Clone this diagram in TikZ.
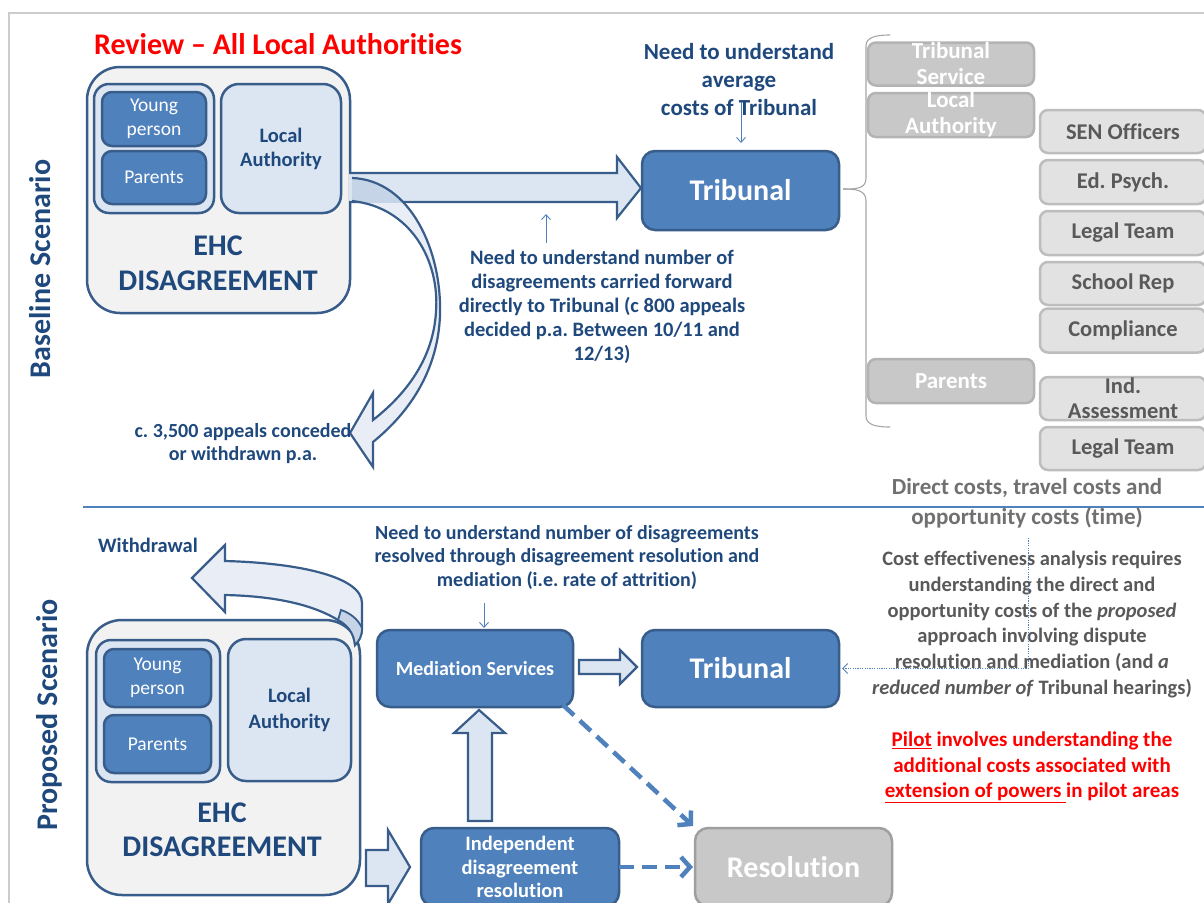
\documentclass[tikz,border=0pt]{standalone}
\usepackage{fontspec}
\setmainfont{Carlito}[Ligatures=NoCommon]
\usetikzlibrary{arrows.meta,calc}
\definecolor{dblue}{HTML}{1F497D}
\definecolor{mblue}{HTML}{4F81BD}
\definecolor{bborder}{HTML}{385D8A}
\definecolor{lblue}{HTML}{DCE6F2}
\definecolor{llblue}{HTML}{E9EEF6}
\definecolor{dkband}{HTML}{C6D4E7}
\definecolor{outerfill}{HTML}{F2F2F2}
\definecolor{gbox}{HTML}{C8C8C8}
\definecolor{gboxb}{HTML}{B3B3B3}
\definecolor{lgbox}{HTML}{E2E2E2}
\definecolor{lgboxb}{HTML}{BDBDBD}
\definecolor{gtext}{HTML}{595959}
\definecolor{gtwo}{HTML}{707070}
\definecolor{framec}{HTML}{CCCCCC}
\definecolor{bracec}{HTML}{A6A6A6}
\newcommand{\fsz}[2]{\fontsize{#1}{#2}\selectfont}
\frenchspacing
\begin{document}
\begin{tikzpicture}[x=1pt,y=-1pt,
  box/.style={draw=bborder, line width=2.5, inner sep=0, outer sep=0},
  bluebox/.style={box, fill=mblue, text=white, align=center},
  lightbox/.style={box, fill=lblue, text=dblue, align=center},
  outerbox/.style={box, fill=outerfill},
  graybox/.style={draw=gboxb, fill=gbox, line width=2.5, rounded corners=8, inner sep=0},
  lgraybox/.style={draw=lgboxb, fill=lgbox, line width=2.5, rounded corners=8, inner sep=0, text=gtext, font=\bfseries\fsz{22.5}{26}},
  wlbl/.style={text=white, font=\bfseries\fsz{23}{26}, align=center, inner sep=0},
  glbl/.style={text=gtext, font=\bfseries\fsz{22.5}{25}, align=center, inner sep=0},
  lbl/.style={text=dblue, align=center, inner sep=0},
  fat/.style={draw=bborder, fill=lblue, line width=2.2, line join=miter},
  thinarrow/.style={mblue, line width=0.9, -{Straight Barb[length=5pt,width=9pt]}},
  dasharrow/.style={mblue, line width=4.5, dash pattern=on 15pt off 8pt, -{Straight Barb[length=9pt,width=20pt]}},
  bracel/.style={draw=bracec, line width=1.1}
]
\useasboundingbox (0,0) rectangle (1204,902);
\fill[white] (0,0) rectangle (1204,902);

% frame and divider
\draw[framec, line width=2] (9,906) -- (9,13) -- (1208,13);
\draw[mblue, line width=1.1] (83,507) -- (1208,507);

% title and side labels
\node[font=\bfseries\fsz{30}{36}, text=red, inner sep=0] (title) at (278,44) {Review – All Local Authorities};
\node[lbl, rotate=90, font=\bfseries\fsz{30}{36}] (base) at (40,269) {Baseline Scenario};
\node[lbl, rotate=90, font=\bfseries\fsz{30}{36}] (prop) at (49,715) {Proposed Scenario};

% ---------- Baseline ----------
\node[outerbox, rounded corners=33, minimum width=263, minimum height=246] (ehc1) at (218.5,190) {};
\node[box, fill=lblue, rounded corners=15, minimum width=120, minimum height=129] (grp1) at (154,148.5) {};
\node[bluebox, rounded corners=10, minimum width=104, minimum height=54, font=\fsz{19.5}{24}] (yp1) at (154,119) {Young\\person};
\node[bluebox, rounded corners=10, minimum width=104, minimum height=53, font=\fsz{19.5}{24}] (par1) at (154,177.5) {Parents};
\node[lightbox, rounded corners=18, minimum width=120, minimum height=129, font=\bfseries\fsz{20.5}{24}] (la1) at (281,148.5) {Local\\Authority};
\node[lbl, font=\bfseries\fsz{30}{35}] (ehct1) at (218,263) {EHC\\DISAGREEMENT};

\node[bluebox, rounded corners=13, minimum width=197, minimum height=79, font=\bfseries\fsz{30}{36}] (trib1) at (740.5,190.5) {Tribunal};

% straight fat arrow
\filldraw[fat] (349,173) -- (617,173) -- (617,157) -- (641,188) -- (617,218) -- (617,202) -- (349,202);

% curved arrow to conceded
\fill[llblue] (352,178) .. controls (410,180) and (442,250) .. (440,315) .. controls (438,370) and (410,412) .. (373,442) -- (373,467) -- (350,433) -- (373,393) -- (373,420) .. controls (405,395) and (433,360) .. (436,312) .. controls (440,260) and (410,207) .. (352,201) -- cycle;
\begin{scope}
\clip (349,173) rectangle (617,202);
\fill[dkband] (352,178) .. controls (410,180) and (442,250) .. (440,315) .. controls (438,370) and (410,412) .. (373,442) -- (373,467) -- (350,433) -- (373,393) -- (373,420) .. controls (405,395) and (433,360) .. (436,312) .. controls (440,260) and (410,207) .. (352,201) -- cycle;
\end{scope}
\draw[bborder, line width=2.2, line join=miter] (352,178) .. controls (410,180) and (442,250) .. (440,315) .. controls (438,370) and (410,412) .. (373,442) -- (373,467) -- (350,433) -- (373,393) -- (373,420) .. controls (405,395) and (433,360) .. (436,312) .. controls (440,260) and (410,207) .. (352,201);

% labels baseline
\node[lbl, font=\bfseries\fsz{23}{28}] (avg) at (739,80) {Need to understand\\average\\costs of Tribunal};
\coordinate (avgs) at (741,102);
\draw[thinarrow, shorten >=8pt] (avgs) -- (avgs |- trib1.north);

\node[lbl, font=\bfseries\fsz{20.5}{24}] (numtxt) at (602,307) {Need to understand number of\\disagreements carried forward\\directly to Tribunal (c 800 appeals\\decided p.a. Between 10/11 and\\12/13)};
\coordinate (nums) at (546,243);
\coordinate (nume) at (546,214);
\draw[thinarrow] (nums) -- (nume);

\node[lbl, font=\bfseries\fsz{20}{23}] (conc) at (243,443.5) {c. 3,500 appeals conceded\\or withdrawn p.a.};

% brace
\coordinate (bt) at (843,189);
\draw[bracel] (bt) .. controls (856,189) and (866,189) .. (866,178) -- (866,46) .. controls (866,38) and (874,35) .. (890,35);
\draw[bracel] (bt) .. controls (856,189) and (866,190) .. (866,201) -- (866,416) .. controls (866,424) and (874,427) .. (890,427);

% gray stakeholder boxes
\node[graybox, minimum width=166, minimum height=43] (ts) at (951,64) {};
\node[wlbl] at (ts.center) {Tribunal\\Service};
\node[graybox, minimum width=166, minimum height=44] (lag) at (951,115) {};
\node[wlbl] at ($(lag.center)+(0,-1)$) {Local\\Authority};
\node[graybox, minimum width=166, minimum height=44] (pg) at (951,381) {};
\node[wlbl] at (pg.center) {Parents};

\node[lgraybox, minimum width=166, minimum height=43] (sen) at (1123,131.5) {SEN Officers};
\node[lgraybox, minimum width=166, minimum height=44] (edp) at (1123,182) {Ed. Psych.};
\node[lgraybox, minimum width=166, minimum height=44] (leg1) at (1123,233) {Legal Team};
\node[lgraybox, minimum width=166, minimum height=43] (sch) at (1123,283.5) {School Rep};
\node[lgraybox, minimum width=166, minimum height=44] (comp) at (1123,330.5) {Compliance};
\node[lgraybox, minimum width=166, minimum height=43] (inda) at (1123,398.5) {};
\node[glbl] at (inda.center) {Ind.\\Assessment};
\node[lgraybox, minimum width=166, minimum height=43] (leg2) at (1123,448.5) {Legal Team};

\node[text=gtwo, font=\bfseries\fsz{23}{30}, align=center, inner sep=0] (direct) at (1027,503) {Direct costs, travel costs and\\opportunity costs (time)};

% ---------- Proposed ----------
\node[lbl, font=\bfseries\fsz{20.5}{24}] (wd) at (148,545) {Withdrawal};

\node[outerbox, rounded corners=35, minimum width=273, minimum height=275] (ehc2) at (223.5,757.5) {};
\node[box, fill=lblue, rounded corners=15, minimum width=124, minimum height=142] (grp2) at (158,711) {};
\node[bluebox, rounded corners=10, minimum width=107, minimum height=58, font=\fsz{19.5}{24}] (yp2) at (157.5,678) {Young\\person};
\node[bluebox, rounded corners=10, minimum width=107, minimum height=58, font=\fsz{19.5}{24}] (par2) at (157.5,744) {Parents};
\node[lightbox, rounded corners=18, minimum width=123, minimum height=142, font=\bfseries\fsz{20.5}{26}] (la2) at (289.5,710) {Local\\Authority};
\node[lbl, font=\bfseries\fsz{30}{34}] (ehct2) at (222,830) {EHC\\DISAGREEMENT};

% withdrawal arrow
\filldraw[fill=llblue, draw=bborder, line width=2.2, line join=miter] (192,578) -- (225,545) -- (225,561) .. controls (300,563) and (362,577) .. (362,603) -- (362,628) .. controls (362,636) and (359,641) .. (355,645) .. controls (354,632) and (346,624) .. (338,620) .. controls (310,603) and (270,596) .. (225,595) -- (225,612) -- cycle;
\filldraw[fill=dkband, draw=bborder, line width=1.8] (338,620) .. controls (346,624) and (354,632) .. (355,645) .. controls (359,641) and (362,636) .. (362,628) .. controls (358,619) and (350,613) .. (341,610) -- cycle;

\node[bluebox, rounded corners=13, minimum width=196, minimum height=77, font=\bfseries\fsz{20}{24}] (med) at (475,668.5) {Mediation Services};
\node[bluebox, rounded corners=13, minimum width=197, minimum height=77, font=\bfseries\fsz{30}{36}] (trib2) at (740.5,668.5) {Tribunal};
\node[bluebox, rounded corners=13, minimum width=198, minimum height=78, font=\bfseries\fsz{20.5}{23.5}] (ind) at (520,867) {Independent\\disagreement\\resolution};
\node[box, draw=gray!75, fill=gbox, text=white, rounded corners=13, minimum width=197, minimum height=78, font=\bfseries\fsz{30}{36}] (res) at (793.5,867) {Resolution};

% fat arrows
\filldraw[fat] (366,850) -- (388,850) -- (388,830) -- (410,867) -- (388,904) -- (388,886) -- (366,886) -- cycle;
\filldraw[fat] (468,821) -- (468,733) -- (454,733) -- (479,710) -- (505,733) -- (492,733) -- (492,821) -- cycle;
\filldraw[fat] (579,660) -- (620,660) -- (620,650) -- (637,667) -- (620,684) -- (620,674) -- (579,674) -- cycle;

% dashed arrows
\draw[dasharrow] (ind.east) -- ($(res.west)+(-2,0)$);
\draw[dasharrow] ($(med.south east)+(-10,-2)$) -- ($(res.north west)+(-2,-2)$);

% labels proposed
\node[lbl, font=\bfseries\fsz{20}{23.5}] (medtxt) at (567,557) {Need to understand number of disagreements\\resolved through disagreement resolution and\\mediation (i.e. rate of attrition)};
\coordinate (meds) at (484,603);
\draw[thinarrow, shorten >=2pt] (meds) -- (meds |- med.north);

\node[text=gtext, font=\bfseries\fsz{20.5}{25.8}, align=center, inner sep=0] (cost) at (1032,624.5) {Cost effectiveness analysis requires\\understanding the direct and\\opportunity costs of the \textit{proposed}\\approach involving dispute\\resolution and mediation (and \textit{a}\\\textit{reduced number of} Tribunal hearings)};
\coordinate (cs) at (1028,538);
\draw[mblue, line width=0.9, dash pattern=on 1.2pt off 1.2pt, -{Straight Barb[length=5pt,width=10pt]}, shorten >=3pt] (cs) -- (cs |- trib2.east) -- (trib2.east);

\node[text=red, font=\bfseries\fsz{21}{25.5}, align=center, inner sep=0] (pilot) at (1032,767.5) {\underline{Pilot} involves understanding the\\additional costs associated with\\\underline{extension of powers\ }in pilot areas};
\end{tikzpicture}
\end{document}
